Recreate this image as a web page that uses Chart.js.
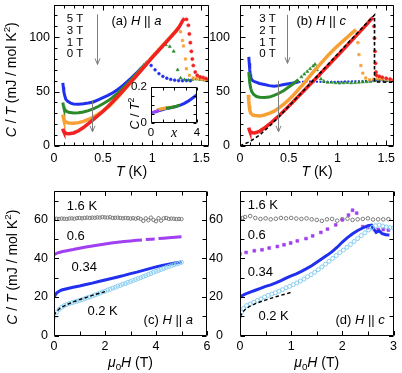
<!DOCTYPE html>
<html><head><meta charset="utf-8"><title>C/T of the compound</title>
<script src="https://cdn.jsdelivr.net/npm/chart.js@4.4.1/dist/chart.umd.min.js"></script>
<style>
html,body{margin:0;padding:0;background:#fff}
#wrap{position:relative;width:402px;height:373px;overflow:hidden;background:#fff}
canvas{position:absolute}
</style></head><body>
<div id="wrap">
<canvas id="ca" width="218" height="186" style="left:0px;top:0px"></canvas>
<canvas id="cb" width="202" height="186" style="left:200px;top:0px"></canvas>
<canvas id="cc" width="218" height="187" style="left:0px;top:186px"></canvas>
<canvas id="cd" width="202" height="187" style="left:200px;top:186px"></canvas>
<canvas id="ci" width="78" height="62" style="left:126px;top:80px"></canvas>
</div>
<script>
// ================= DATA =================
// ---- Panel (a): H || a, C/T (mJ/mol K^2) vs T (K)
const a_xTicks = [0, 0.5, 1, 1.5];
const a_yTicks = [0, 50, 100];
const a_5T_line = [[0.09,58],[0.095,54],[0.1,50],[0.11,46],[0.12,43],[0.14,41],[0.17,39.5],[0.2,38.5],[0.25,38.3],[0.3,38.8],[0.35,39.5],[0.4,40.5],[0.45,42.5],[0.5,44.5],[0.55,46.5],[0.6,49],[0.65,52],[0.7,55.5],[0.75,59.5],[0.8,63.5],[0.85,68],[0.9,72.5],[0.93,75.5]];
const a_5T_dots = [[0.95,77],[0.99,74],[1.03,70],[1.07,66.5],[1.11,64],[1.15,62.3],[1.19,61.2],[1.23,60.5],[1.27,60.1],[1.31,60],[1.35,60.2],[1.39,60]];
const a_3T_line = [[0.09,40],[0.095,37.5],[0.1,35.5],[0.11,33.5],[0.13,31.8],[0.15,31],[0.2,30.3],[0.25,30.5],[0.3,31.2],[0.35,32.5],[0.4,34.2],[0.45,36.3],[0.5,38.8],[0.55,41.5],[0.6,44.8],[0.65,48.6],[0.7,53],[0.75,57.5],[0.8,62.3],[0.85,67.3],[0.9,72.3],[0.95,77.3]];
const a_3T_dots = [[0.98,80],[1.02,84],[1.06,88],[1.1,91],[1.14,93],[1.18,91.5],[1.22,87],[1.26,70],[1.29,62.5],[1.33,61],[1.37,60.5],[1.41,61],[1.45,61.5],[1.49,61],[1.53,60.5],[1.57,60]];
const a_1T_line = [[0.09,29],[0.095,26],[0.1,24.2],[0.11,22.8],[0.13,21.7],[0.15,21.2],[0.2,21],[0.25,21.5],[0.3,22.6],[0.35,24.4],[0.4,26.6],[0.45,29.2],[0.5,32.2],[0.55,35.8],[0.6,40],[0.65,44.8],[0.7,50],[0.75,55],[0.8,60.3],[0.85,65.6],[0.9,71],[0.95,76.5],[1.0,81.8],[1.05,86.8],[1.1,91.8],[1.15,96.6],[1.2,101.3],[1.24,105.5],[1.27,108.5]];
const a_1T_dots = [[1.29,105],[1.31,97],[1.32,92],[1.34,80],[1.35,71],[1.38,65],[1.42,62.5],[1.46,62],[1.5,61.5],[1.54,60.8],[1.58,60.5]];
const a_0T_line = [[0.09,16],[0.095,14.2],[0.1,13.2],[0.11,12.2],[0.13,11.5],[0.15,11.3],[0.2,12],[0.25,14],[0.3,17],[0.35,20.5],[0.4,24.2],[0.45,28],[0.5,32],[0.55,36.4],[0.6,41],[0.65,45.8],[0.7,50.6],[0.75,55.5],[0.8,60.5],[0.85,65.6],[0.9,70.8],[0.95,76],[1.0,81.2],[1.05,86.2],[1.1,91.2],[1.15,96.2],[1.2,101.2],[1.25,106.3],[1.28,110],[1.31,115],[1.33,117.5]];
const a_0T_dots = [[1.35,116.5],[1.37,111],[1.38,103],[1.39,95],[1.4,87],[1.41,80],[1.42,74],[1.44,68],[1.46,65],[1.49,63.5],[1.52,63],[1.55,62],[1.58,61]];

// ---- Inset of (a): C/T^2 vs x
const i_xTicks = [0, 4];
const i_yTicks = [0, 0.2];
const i_cyan   = [[0,0.05],[0.15,0.053],[0.3,0.057],[0.45,0.061]];
const i_purple = [[0,0.056],[0.15,0.059],[0.3,0.062],[0.5,0.066],[0.7,0.069]];
const i_orange = [[0.5,0.071],[0.8,0.077],[1.1,0.081],[1.4,0.084],[1.7,0.087],[2.0,0.09]];
const i_green  = [[1.3,0.082],[1.6,0.085],[1.9,0.088],[2.2,0.093],[2.5,0.099]];
const i_blue   = [[0.2,0.058],[0.5,0.065],[0.8,0.071],[1.1,0.076],[1.4,0.081],[1.7,0.085],[2.0,0.089],[2.3,0.094],[2.6,0.101],[2.9,0.109],[3.2,0.12],[3.5,0.133],[3.8,0.147],[4.0,0.157]];

// ---- Panel (b): H || c, C/T vs T
const b_xTicks = [0, 0.5, 1, 1.5];
const b_yTicks = [0, 50, 100];
const b_3T_line = [[0.09,82],[0.095,76],[0.1,70],[0.105,66],[0.11,63],[0.12,61],[0.14,59.5],[0.17,58.5],[0.2,57.5],[0.25,56.5],[0.3,55.5],[0.35,55],[0.4,55.5],[0.45,56.5],[0.5,57.3],[0.55,58],[0.6,58.8]];
const b_3T_tail = [[0.6,58.8],[0.7,59.3],[0.8,59],[0.9,58.8],[1.0,59],[1.1,59.3],[1.2,59.5],[1.3,59.8],[1.35,60.3],[1.4,60.5],[1.45,60],[1.5,59.8],[1.58,59.5]];
const b_2T_line = [[0.09,68],[0.095,63],[0.1,58],[0.11,53],[0.12,50],[0.14,47.5],[0.17,45.5],[0.2,44.8],[0.25,44.5],[0.3,45],[0.35,46.5],[0.4,48.5],[0.45,51],[0.5,54.2],[0.55,57.5],[0.6,61]];
const b_2T_dots = [[0.63,63.5],[0.66,66],[0.69,68.5],[0.72,71],[0.75,73.5],[0.77,75],[0.79,70],[0.81,65],[0.83,61.5],[0.86,59.5],[0.9,58.5],[0.94,58.5],[0.98,58],[1.02,57.8],[1.06,58],[1.1,58.3],[1.14,58],[1.18,58.2],[1.22,58.5],[1.26,58.8],[1.3,59],[1.34,59.3],[1.38,60],[1.42,60.8],[1.46,61],[1.5,60.5],[1.54,60.2],[1.58,60]];
const b_1T_line = [[0.085,47],[0.09,42],[0.095,37],[0.1,33],[0.11,30],[0.13,28.5],[0.15,28],[0.2,27.5],[0.25,28.5],[0.3,30],[0.35,32],[0.4,35],[0.45,38.5],[0.5,42.5],[0.55,47],[0.6,52],[0.65,57],[0.7,62.5],[0.75,68],[0.8,73],[0.85,78],[0.9,83],[0.95,87.5],[1.0,92],[1.05,96],[1.1,100],[1.15,104],[1.19,107]];
const b_1T_dots = [[1.21,95],[1.22,84],[1.24,74],[1.26,67],[1.29,62.5],[1.33,61],[1.37,61.5],[1.41,62],[1.45,61.5],[1.5,61],[1.55,60.5]];
const b_0T_line = [[0.09,17],[0.095,15],[0.1,13.8],[0.11,12.8],[0.13,12.2],[0.15,12],[0.2,13.5],[0.25,16.5],[0.3,20],[0.35,23.8],[0.4,27.8],[0.45,32.2],[0.5,36.6],[0.55,41.2],[0.6,45.8],[0.65,50.4],[0.7,55],[0.75,59.6],[0.8,64.2],[0.85,68.9],[0.9,73.6],[0.95,78.3],[1.0,83],[1.05,87.8],[1.1,92.6],[1.15,97.4],[1.2,102.2],[1.25,107],[1.3,111.8],[1.34,116],[1.365,118]];
const b_0T_dots = [[1.375,110],[1.38,99],[1.385,87],[1.39,76],[1.395,68],[1.4,65],[1.43,64],[1.46,63.2],[1.5,62.3],[1.54,61.5],[1.58,60.8]];
const b_fit = [[0,0],[0.1,4],[0.2,10],[0.3,18],[0.4,27],[0.5,36.5],[0.6,46],[0.7,55.5],[0.8,65],[0.9,74.7],[1.0,84.4],[1.1,94],[1.2,103.5],[1.3,113],[1.38,120.5],[1.38,59],[1.58,58.5]];

// ---- Panel (c): H || a, C/T vs mu0H (T)
const c_xTicks = [0, 2, 4, 6];
const c_yTicks = [0, 20, 40, 60];
const c_16K = [[0,60.8],[0.1,60.6],[0.2,60.5],[0.3,60.7],[0.4,60.6],[0.5,60.5],[0.6,60.7],[0.7,60.8],[0.8,60.6],[0.9,60.9],[1.0,61],[1.1,60.8],[1.2,61],[1.3,61.2],[1.4,61],[1.5,61.2],[1.6,61.1],[1.7,61.3],[1.8,61.2],[1.9,61.5],[2.0,61.3],[2.1,61.2],[2.2,61.4],[2.3,61],[2.4,61.1],[2.5,61.2],[2.6,61],[2.7,60.8],[2.8,61],[2.9,60.9],[3.0,60.7],[3.1,60.9],[3.2,60.6],[3.3,61],[3.4,60.5],[3.5,59.5],[3.6,60.8],[3.7,59.8],[3.8,61.2],[3.9,60],[4.0,59.3],[4.1,60.9],[4.2,59.6],[4.3,60.8],[4.4,61],[4.5,60.5],[4.6,60.7],[4.7,60.6],[4.8,60.4],[4.9,60.5],[5.0,60.4]];
const c_06K = [[0,42],[0.1,42.6],[0.2,43.1],[0.3,43.5],[0.5,44],[0.75,44.6],[1.0,45.3],[1.25,45.9],[1.5,46.5],[1.75,47],[2.0,47.5],[2.25,48],[2.5,48.4],[2.75,48.8],[3.0,49.1],[3.25,49.4],[3.45,49.6],[3.52,null],[3.6,49.8],[3.8,50],[3.95,50.1],[4.03,null],[4.1,50.3],[4.3,50.5],[4.5,50.7],[4.75,51],[5.0,51.2]];
const c_034K = [[0,19.8],[0.05,21],[0.1,22],[0.2,23],[0.3,23.6],[0.5,24.3],[0.75,25],[1.0,25.7],[1.25,26.5],[1.5,27.2],[1.75,28],[2.0,28.8],[2.25,29.6],[2.5,30.4],[2.75,31.2],[3.0,32.1],[3.25,32.9],[3.5,33.8],[3.75,34.7],[4.0,35.6],[4.25,36.4],[4.5,37],[4.75,37.6],[5.0,38.2]];
const c_02K = [[0,9.5],[0.1,12],[0.2,13.6],[0.3,14.7],[0.4,15.5],[0.5,16.1],[0.6,16.6],[0.7,17],[0.8,17.4],[0.9,17.8],[1.0,18.2],[1.1,18.6],[1.2,19.1],[1.3,19.6],[1.4,20],[1.5,20.5],[1.6,21],[1.7,21.5],[1.8,22],[1.9,22.6],[2.0,23],[2.1,23.6],[2.2,24],[2.3,24.6],[2.4,25],[2.5,25.6],[2.6,26],[2.7,26.6],[2.8,27],[2.9,27.6],[3.0,28],[3.1,28.6],[3.2,29],[3.3,29.6],[3.4,30],[3.5,30.6],[3.6,31.1],[3.7,31.7],[3.8,32.2],[3.9,32.8],[4.0,33.3],[4.1,33.8],[4.2,34.3],[4.3,34.8],[4.4,35.3],[4.5,35.8],[4.6,36.2],[4.7,36.7],[4.8,37.1],[4.9,37.5],[5.0,38]];
const c_fit = [[0,10.5],[0.1,12.5],[0.25,14.3],[0.5,16],[0.75,17.4],[1.0,18.6],[1.25,19.7],[1.5,20.8],[1.75,21.8],[2.0,22.8]];

// ---- Panel (d): H || c, C/T vs mu0H (T)
const d_xTicks = [0, 1, 2, 3];
const d_yTicks = [0, 20, 40, 60];
const d_16K = [[0,60.5],[0.05,61],[0.1,61.5],[0.2,62],[0.3,61],[0.4,60.5],[0.5,60.8],[0.6,60.3],[0.7,60.6],[0.8,61],[0.9,60.8],[1.0,61],[1.1,60.7],[1.2,60.5],[1.3,60.8],[1.4,60.3],[1.5,60],[1.6,59.5],[1.7,60.3],[1.8,60.5],[1.9,59.6],[2.0,60.4],[2.1,60.6],[2.2,60],[2.3,60.3],[2.4,60.5],[2.5,60.8],[2.6,60.2],[2.7,60.3],[2.8,60.3],[2.9,60.4]];
const d_06K = [[0,42.3],[0.12,43.1],[0.28,44],[0.43,44.5],[0.57,45.4],[0.73,46.2],[0.86,47.1],[0.99,48],[1.12,49.1],[1.29,50.3],[1.42,51.7],[1.58,53.5],[1.71,55.2],[1.87,57.4],[2.0,60],[2.12,62.5],[2.2,65],[2.28,63.5],[2.4,56.5],[2.5,56],[2.6,55.5],[2.7,55],[2.8,55],[2.9,54.7]];
const d_034K = [[0,19.8],[0.03,20.5],[0.1,21.5],[0.2,22.5],[0.3,23.5],[0.4,24.5],[0.5,25.5],[0.6,26.3],[0.7,27.3],[0.8,28.5],[0.9,29.8],[1.0,31],[1.1,32],[1.2,33.3],[1.3,34.7],[1.4,36.2],[1.5,38],[1.6,39.8],[1.7,41.6],[1.8,43.5],[1.9,45.8],[2.0,48.5],[2.1,50.8],[2.2,52.8],[2.3,54.5],[2.4,55.8],[2.5,57],[2.57,57.3],[2.62,55],[2.66,53.5],[2.72,54.3],[2.78,52.8],[2.85,52.3],[2.92,52.2]];
const d_02K = [[0,10],[0.03,12],[0.07,14],[0.13,15.5],[0.2,16.3],[0.27,17.2],[0.34,18.2],[0.41,19],[0.48,20],[0.55,20.8],[0.62,21.5],[0.69,22.2],[0.76,23],[0.83,23.8],[0.9,24.7],[0.97,25.5],[1.04,26.4],[1.11,27.3],[1.18,28.3],[1.25,29.3],[1.32,30.5],[1.39,31.6],[1.46,32.8],[1.53,34.2],[1.6,35.6],[1.67,37],[1.74,38.5],[1.81,40],[1.88,41.5],[1.95,43],[2.02,44.3],[2.09,45.8],[2.16,47.3],[2.23,48.8],[2.3,50.3],[2.37,51.8],[2.44,53.3],[2.51,54.8],[2.58,56],[2.65,57],[2.72,57.3],[2.79,56.8],[2.86,56.3],[2.93,56],[3.0,55.8]];
const d_fit = [[0,9.8],[0.05,12],[0.1,13.5],[0.2,15.3],[0.3,16.5],[0.4,17.5],[0.5,18.4],[0.6,19.3],[0.7,20.1],[0.8,20.9],[0.9,21.6],[1.0,22.4]];

// ================= STYLE / HELPERS =================
const FONT = '"Liberation Sans", Arial, Helvetica, sans-serif';
const SERIF = '"Liberation Serif", "Times New Roman", serif';
const COL = {blue:'#2030ee', green:'#2a8a2a', orange:'#f7a035', red:'#f02222', purple:'#a040f0', cyan:'#86cdf0', gray:'#7a7a7a', arrow:'#7f7f7f', fit:'#000'};

const pts = a => a.map(p => ({x: p[0], y: p[1]}));
function lineDS(a, c, w, dash) {
  return {data: pts(a), showLine: true, borderColor: c, backgroundColor: c, borderWidth: w,
          borderDash: dash || [], pointRadius: 0, tension: 0, spanGaps: false};
}
function dotDS(a, c, r, style, open) {
  return {data: pts(a), showLine: false, pointRadius: r, pointStyle: style || 'circle',
          borderColor: c, backgroundColor: open ? 'rgba(255,255,255,0)' : c, borderWidth: open ? 1 : 0.6};
}

function drawRich(ctx, parts, x, y, o) {
  const size = o.size || 13, fam = o.fam || FONT;
  const segs = parts.map(([t, s]) => {
    const small = (s === 'sup' || s === 'sub');
    const sz = small ? size * 0.7 : size;
    const f = (s === 'i' ? 'italic ' : '') + sz + 'px ' + fam;
    ctx.font = f;
    const w = ctx.measureText(t).width;
    const dy = s === 'sup' ? -size * 0.36 : (s === 'sub' ? size * 0.28 : 0);
    return {t, f, w, dy};
  });
  const total = segs.reduce((a, b) => a + b.w, 0);
  ctx.save();
  ctx.translate(x, y);
  if (o.rot) ctx.rotate(o.rot);
  let cx = o.align === 'left' ? 0 : (o.align === 'right' ? -total : -total / 2);
  ctx.textBaseline = 'middle'; ctx.textAlign = 'left';
  ctx.fillStyle = o.color || '#000';
  for (const s of segs) { ctx.font = s.f; ctx.fillText(s.t, cx, s.dy); cx += s.w; }
  ctx.restore();
}

const EXTRAS = {};
const decoPlugin = {
  id: 'deco',
  beforeDatasetsDraw(chart) {
    const e = EXTRAS[chart.canvas.id];
    if (e && e.fill) {
      const a = chart.chartArea, ctx = chart.ctx;
      ctx.save(); ctx.fillStyle = '#fff';
      ctx.fillRect(a.left, a.top, a.right - a.left, a.bottom - a.top);
      ctx.restore();
    }
  },
  afterDatasetsDraw(chart) {
    const e = EXTRAS[chart.canvas.id]; if (!e) return;
    const f = e.frame;
    const {ctx, chartArea: a} = chart;
    const xs = chart.scales.x, ys = chart.scales.y;
    ctx.save();
    ctx.strokeStyle = '#000'; ctx.lineWidth = 1;
    const L = Math.round(a.left) + 0.5, R = Math.round(a.right) - 0.5;
    const T = Math.round(a.top) + 0.5, B = Math.round(a.bottom) - 0.5;
    ctx.beginPath();
    ctx.rect(L, T, R - L, B - T);
    const isMaj = (v, m) => Math.abs(v / m - Math.round(v / m)) < 1e-6;
    const nx = Math.floor((xs.max - xs.min) / f.xMinor + 1e-6);
    for (let k = 0; k <= nx; k++) {
      const v = xs.min + k * f.xMinor;
      const px = Math.round(xs.getPixelForValue(v)) + 0.5;
      const len = isMaj(v, f.xMajor) ? f.maj : f.min;
      ctx.moveTo(px, B); ctx.lineTo(px, B - len);
      ctx.moveTo(px, T); ctx.lineTo(px, T + len);
    }
    const ny = Math.floor((ys.max - ys.min) / f.yMinor + 1e-6);
    for (let k = 0; k <= ny; k++) {
      const v = ys.min + k * f.yMinor;
      const py = Math.round(ys.getPixelForValue(v)) + 0.5;
      const len = isMaj(v, f.yMajor) ? f.maj : f.min;
      ctx.moveTo(L, py); ctx.lineTo(L + len, py);
      ctx.moveTo(R, py); ctx.lineTo(R - len, py);
    }
    ctx.stroke();
    ctx.restore();
  },
  afterDraw(chart) {
    const e = EXTRAS[chart.canvas.id]; if (!e || !e.notes) return;
    const {ctx, chartArea: a} = chart;
    const xs = chart.scales.x, ys = chart.scales.y;
    for (const n of e.notes) {
      if (n.t === 'text') {
        drawRich(ctx, n.parts, xs.getPixelForValue(n.x), ys.getPixelForValue(n.y), {size: n.size || 13, align: n.align || 'center', fam: n.fam});
      } else if (n.t === 'arrow') {
        const px = Math.round(xs.getPixelForValue(n.x)) + 0.5;
        const y0 = ys.getPixelForValue(n.y0), y1 = ys.getPixelForValue(n.y1);
        ctx.save(); ctx.strokeStyle = COL.arrow; ctx.lineWidth = 1;
        ctx.beginPath(); ctx.moveTo(px, y0); ctx.lineTo(px, y1);
        ctx.moveTo(px - 2.5, y1 - 6); ctx.lineTo(px, y1); ctx.lineTo(px + 2.5, y1 - 6);
        ctx.stroke(); ctx.restore();
      } else if (n.t === 'xtitle') {
        drawRich(ctx, n.parts, (a.left + a.right) / 2, a.bottom + n.dy, {size: n.size || 14, align: 'center', fam: n.fam});
      } else if (n.t === 'ytitle') {
        drawRich(ctx, n.parts, n.px, (a.top + a.bottom) / 2 + n.dy, {size: n.size || 14, align: 'center', rot: -Math.PI / 2, fam: n.fam});
      }
    }
  }
};
Chart.register(decoPlugin);

function makeChart(id, datasets, sc, ex) {
  EXTRAS[id] = ex;
  const tickFont = {family: FONT, size: sc.fs};
  const noPad = s => { s.paddingTop = 0; s.paddingBottom = 0; s.paddingLeft = 0; s.paddingRight = 0; };
  return new Chart(document.getElementById(id), {
    type: 'scatter',
    data: {datasets},
    options: {
      responsive: false, animation: false, devicePixelRatio: 1, events: [],
      layout: {padding: sc.pad},
      plugins: {legend: {display: false}, tooltip: {enabled: false}, title: {display: false}},
      scales: {
        x: {type: 'linear', min: sc.xmin, max: sc.xmax,
            afterFit: s => { s.height = sc.xh; noPad(s); },
            afterBuildTicks: s => { s.ticks = sc.xt.map(v => ({value: v})); },
            grid: {display: false, drawTicks: false}, border: {display: false},
            ticks: {padding: sc.xpad, font: tickFont, color: '#000', autoSkip: false, minRotation: 0, maxRotation: 0, callback: v => String(v)}},
        y: {type: 'linear', min: sc.ymin, max: sc.ymax,
            afterFit: s => { s.width = sc.yw; noPad(s); },
            afterBuildTicks: s => { s.ticks = sc.yt.map(v => ({value: v})); },
            grid: {display: false, drawTicks: false}, border: {display: false},
            ticks: {padding: sc.ypad, font: tickFont, color: '#000', autoSkip: false, callback: v => String(v)}}
      }
    }
  });
}

const YTITLE = [['C','i'],[' / ',''],['T','i'],[' (mJ / mol K',''],['2','sup'],[')','']];
const XT_T = [['T','i'],[' (K)','']];
const XT_H = [['\u03BC','i'],['0','sub'],['H','i'],[' (T)','']];
const FS_FIELD = 11.5;

// ---- Panel (a)
makeChart('ca', [
  lineDS(a_0T_line, COL.red, 3.5), dotDS(a_0T_dots, COL.red, 1.6, 'circle'),
  lineDS(a_1T_line, COL.orange, 3.5), dotDS(a_1T_dots, COL.orange, 1.7, 'rect'),
  lineDS(a_3T_line, COL.green, 3), dotDS(a_3T_dots, COL.green, 1.8, 'triangle'),
  lineDS(a_5T_line, COL.blue, 3), dotDS(a_5T_dots, COL.blue, 1.4, 'circle')
], {xmin: 0, xmax: 1.58, ymin: 0, ymax: 130, xt: a_xTicks, yt: a_yTicks,
    pad: {left: 0, top: 3, right: 9, bottom: 0}, xh: 40, yw: 54, xpad: 5, ypad: 4, fs: 12.5},
{frame: {xMajor: 0.5, xMinor: 0.1, yMajor: 50, yMinor: 10, maj: 5, min: 3},
 notes: [
  {t: 'text', x: 0.13, y: 116.5, parts: [['5 T','']], align: 'left', size: FS_FIELD},
  {t: 'text', x: 0.13, y: 106, parts: [['3 T','']], align: 'left', size: FS_FIELD},
  {t: 'text', x: 0.13, y: 95.3, parts: [['1 T','']], align: 'left', size: FS_FIELD},
  {t: 'text', x: 0.13, y: 84.6, parts: [['0 T','']], align: 'left', size: FS_FIELD},
  {t: 'text', x: 0.585, y: 114.5, parts: [['(a) ',''],['H','i'],[' || ',''],['a','i']], align: 'left'},
  {t: 'arrow', x: 0.44, y0: 121, y1: 75},
  {t: 'arrow', x: 0.39, y0: 42, y1: 13},
  {t: 'xtitle', parts: XT_T, dy: 26.5},
  {t: 'ytitle', parts: YTITLE, px: 12.5, dy: 4.5}
 ]});

// ---- Inset
makeChart('ci', [
  lineDS(i_purple, COL.purple, 3), lineDS(i_cyan, COL.cyan, 3),
  lineDS(i_green, COL.green, 3), lineDS(i_orange, COL.orange, 3.2),
  lineDS(i_blue, COL.blue, 3)
], {xmin: 0, xmax: 4, ymin: 0, ymax: 0.2, xt: i_xTicks, yt: i_yTicks,
    pad: {left: 0, top: 7, right: 7, bottom: 0}, xh: 19, yw: 25, xpad: 3, ypad: 4, fs: 11.5},
{fill: true, frame: {xMajor: 1, xMinor: 1, yMajor: 0.05, yMinor: 0.05, maj: 3, min: 3},
 notes: [
  {t: 'xtitle', parts: [['x','i']], dy: 10, size: 14, fam: SERIF},
  {t: 'ytitle', parts: [['C','i'],[' / ',''],['T','i'],['2','sup']], px: 10, dy: 8.5, size: 12.5}
 ]});

// ---- Panel (b)
makeChart('cb', [
  lineDS(b_fit, COL.fit, 1.6, [3.5, 2.5]),
  lineDS(b_0T_line, COL.red, 3.5), dotDS(b_0T_dots, COL.red, 1.6, 'circle'),
  lineDS(b_1T_line, COL.orange, 3.5), dotDS(b_1T_dots, COL.orange, 1.7, 'rect'),
  lineDS(b_2T_line, COL.green, 3), dotDS(b_2T_dots, COL.green, 1.8, 'triangle'),
  lineDS(b_3T_line, COL.blue, 3), lineDS(b_3T_tail, COL.blue, 2, [2, 1.5])
], {xmin: 0, xmax: 1.58, ymin: 0, ymax: 130, xt: b_xTicks, yt: b_yTicks,
    pad: {left: 0, top: 3, right: 8, bottom: 0}, xh: 40, yw: 40, xpad: 5, ypad: 10, fs: 12.5},
{frame: {xMajor: 0.5, xMinor: 0.1, yMajor: 50, yMinor: 10, maj: 5, min: 3},
 notes: [
  {t: 'text', x: 0.197, y: 116.5, parts: [['3 T','']], align: 'left', size: FS_FIELD},
  {t: 'text', x: 0.197, y: 106, parts: [['2 T','']], align: 'left', size: FS_FIELD},
  {t: 'text', x: 0.197, y: 95.3, parts: [['1 T','']], align: 'left', size: FS_FIELD},
  {t: 'text', x: 0.197, y: 84.6, parts: [['0 T','']], align: 'left', size: FS_FIELD},
  {t: 'text', x: 0.58, y: 114.5, parts: [['(b) ',''],['H','i'],[' || ',''],['c','i']], align: 'left'},
  {t: 'arrow', x: 0.487, y0: 120.6, y1: 76},
  {t: 'arrow', x: 0.39, y0: 60, y1: 13},
  {t: 'xtitle', parts: XT_T, dy: 26.5}
 ]});

// ---- Panel (c)
makeChart('cc', [
  lineDS(c_fit, COL.fit, 1.4, [3.5, 2.5]),
  dotDS(c_02K, COL.cyan, 2, 'circle', true),
  lineDS(c_034K, COL.blue, 3),
  lineDS(c_06K, COL.purple, 3),
  dotDS(c_16K, COL.gray, 1.7, 'circle', true)
], {xmin: 0, xmax: 6, ymin: 0, ymax: 75, xt: c_xTicks, yt: c_yTicks,
    pad: {left: 0, top: 4, right: 11, bottom: 0}, xh: 37.5, yw: 54, xpad: 4, ypad: 6, fs: 12.5},
{frame: {xMajor: 2, xMinor: 1, yMajor: 20, yMinor: 10, maj: 4.5, min: 4},
 notes: [
  {t: 'text', x: 0.5, y: 67, parts: [['1.6 K','']], align: 'left'},
  {t: 'text', x: 0.5, y: 51.5, parts: [['0.6','']], align: 'left'},
  {t: 'text', x: 0.69, y: 35.5, parts: [['0.34','']], align: 'left'},
  {t: 'text', x: 1.31, y: 12.3, parts: [['0.2 K','']], align: 'left'},
  {t: 'text', x: 5.45, y: 8, parts: [['(c) ',''],['H','i'],[' || ',''],['a','i']], align: 'right'},
  {t: 'xtitle', parts: XT_H, dy: 27.5},
  {t: 'ytitle', parts: YTITLE, px: 13, dy: 4}
 ]});

// ---- Panel (d)
makeChart('cd', [
  lineDS(d_fit, COL.fit, 1.4, [3.5, 2.5]),
  dotDS(d_02K, COL.cyan, 2, 'circle', true),
  lineDS(d_034K, COL.blue, 3),
  dotDS(d_06K, COL.purple, 2, 'rect'),
  dotDS(d_16K, COL.gray, 1.8, 'circle', true)
], {xmin: 0, xmax: 3, ymin: 0, ymax: 75, xt: d_xTicks, yt: d_yTicks,
    pad: {left: 0, top: 4, right: 8.5, bottom: 0}, xh: 37.5, yw: 40, xpad: 4, ypad: 17, fs: 12.5},
{frame: {xMajor: 1, xMinor: 0.5, yMajor: 20, yMinor: 10, maj: 4.5, min: 4},
 notes: [
  {t: 'text', x: 0.15, y: 67.5, parts: [['1.6 K','']], align: 'left'},
  {t: 'text', x: 0.15, y: 51.9, parts: [['0.6','']], align: 'left'},
  {t: 'text', x: 0.15, y: 32.6, parts: [['0.34','']], align: 'left'},
  {t: 'text', x: 0.36, y: 9.7, parts: [['0.2 K','']], align: 'left'},
  {t: 'text', x: 2.83, y: 8, parts: [['(d) ',''],['H','i'],[' || ',''],['c','i']], align: 'right'},
  {t: 'xtitle', parts: XT_H, dy: 27.5}
 ]});
</script>
</body></html>
